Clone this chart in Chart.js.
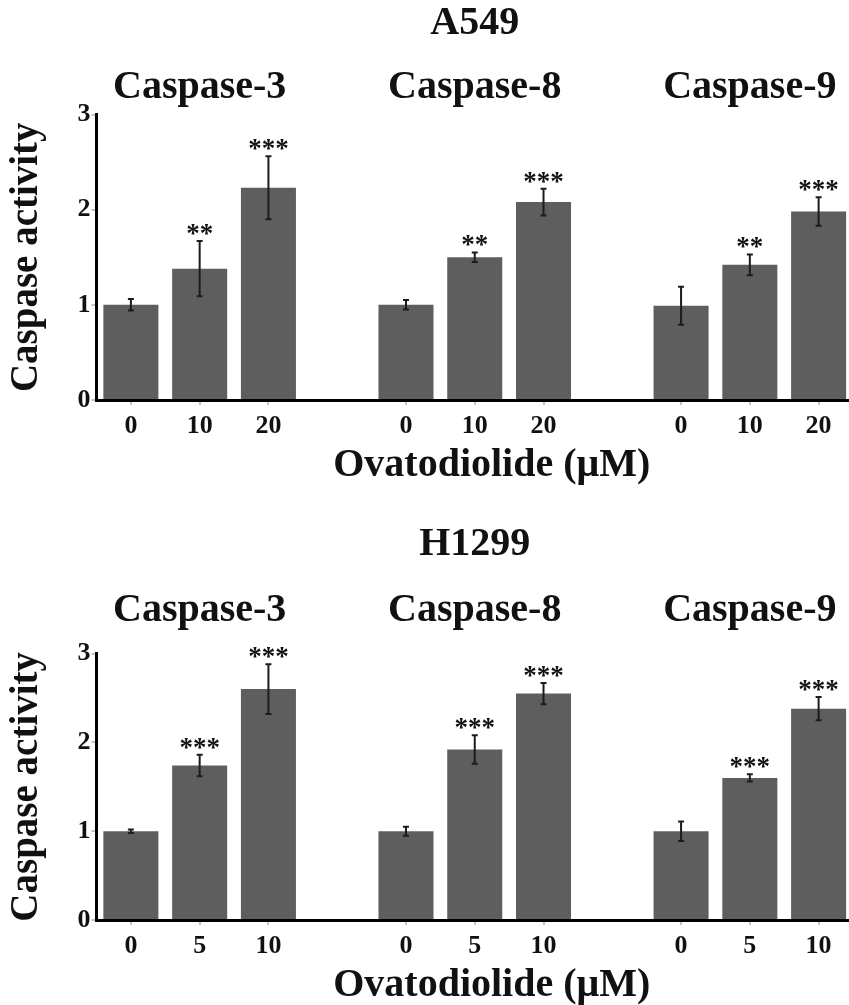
<!DOCTYPE html>
<html>
<head>
<meta charset="utf-8">
<script src="https://cdn.jsdelivr.net/npm/chart.js@4.4.1/dist/chart.umd.min.js"></script>
<style>
  html, body { margin: 0; padding: 0; background: #fff; overflow: hidden; }
  #wrap { position: relative; width: 849px; height: 1005px; overflow: hidden; }
  canvas { position: absolute; left: 0; }
  #a549Chart { top: 0; }
  #h1299Chart { top: 500px; }
</style>
</head>
<body>
<div id="wrap">
  <canvas id="a549Chart" width="853" height="500"></canvas>
  <canvas id="h1299Chart" width="853" height="520"></canvas>
</div>
<script>
const groupNames = ["Caspase-3", "Caspase-8", "Caspase-9"];
const groupCenters = [1, 5, 9];
const yTicks = [0, 1, 2, 3];
const xTitle = "Ovatodiolide (μM)";

const a549Doses  = ["0", "10", "20", "", "0", "10", "20", "", "0", "10", "20"];
const a549Values = [1.0, 1.38, 2.23, null, 1.0, 1.5, 2.08, null, 0.99, 1.42, 1.98];
const a549Errors = [0.06, 0.29, 0.33, null, 0.05, 0.05, 0.14, null, 0.2, 0.11, 0.15];
const a549Stars  = ["", "**", "***", "", "", "**", "***", "", "", "**", "***"];

const h1299Doses  = ["0", "5", "10", "", "0", "5", "10", "", "0", "5", "10"];
const h1299Values = [1.0, 1.74, 2.6, null, 1.0, 1.92, 2.55, null, 1.0, 1.6, 2.38];
const h1299Errors = [0.02, 0.12, 0.28, null, 0.05, 0.16, 0.12, null, 0.11, 0.04, 0.13];
const h1299Stars  = ["", "***", "***", "", "", "***", "***", "", "", "***", "***"];

const SERIF = "'Liberation Serif', 'Times New Roman', serif";
const INK = "#111";

// error bars, significance stars, caspase headers and the dose title
const annotate = {
  id: "annotate",
  afterDatasetsDraw(chart, args, o) {
    const { ctx, chartArea, scales: { x, y } } = chart;
    ctx.save();
    ctx.strokeStyle = "#1c1c1c";
    ctx.fillStyle = INK;
    ctx.lineWidth = 2;
    ctx.textAlign = "center";
    ctx.textBaseline = "alphabetic";
    ctx.font = "bold 27px " + SERIF;
    o.values.forEach((v, i) => {
      if (v == null) return;
      const cx = x.getPixelForValue(i);
      const hi = y.getPixelForValue(v + o.errors[i]);
      const lo = y.getPixelForValue(v - o.errors[i]);
      ctx.beginPath();
      ctx.moveTo(cx, hi); ctx.lineTo(cx, lo);
      ctx.moveTo(cx - 3, hi); ctx.lineTo(cx + 3, hi);
      ctx.moveTo(cx - 3, lo); ctx.lineTo(cx + 3, lo);
      ctx.stroke();
      if (o.stars[i]) ctx.fillText(o.stars[i], cx, hi + 1);
    });
    ctx.font = "bold 40px " + SERIF;
    ctx.textBaseline = "middle";
    groupNames.forEach((name, k) => {
      ctx.fillText(name, x.getPixelForValue(groupCenters[k]), chartArea.top - o.headGap);
    });
    // the source figure centres this title a little right of the plot middle
    const midX = (chartArea.left + chartArea.right) / 2 + 17;
    ctx.fillText(xTitle, midX, chartArea.bottom + 66);
    ctx.restore();
  }
};

function panel(id, cfg) {
  return new Chart(document.getElementById(id), {
    type: "bar",
    data: {
      labels: cfg.doses,
      datasets: [{
        data: cfg.values,
        backgroundColor: "#5e5e5e",
        borderWidth: 0,
        barPercentage: 0.8,
        categoryPercentage: 1
      }]
    },
    options: {
      responsive: false,
      animation: false,
      layout: { padding: 0 },
      plugins: {
        legend: { display: false },
        tooltip: { enabled: false },
        title: {
          display: true,
          text: cfg.cell,
          fullSize: false,
          color: INK,
          font: { family: SERIF, size: 40, weight: "bold" },
          padding: cfg.titlePad
        },
        annotate: {
          values: cfg.values, errors: cfg.errors, stars: cfg.stars,
          headGap: cfg.headGap
        }
      },
      scales: {
        x: {
          offset: true,
          grid: {
            offset: false,
            drawOnChartArea: false,
            tickLength: 5,
            lineWidth: 2,
            color: c => (c.tick && c.tick.label === "") ? "rgba(0,0,0,0)" : "#c4c4c4"
          },
          border: { color: "#000", width: 3 },
          ticks: {
            color: INK, autoSkip: false, maxRotation: 0, padding: cfg.tickPad,
            font: { family: SERIF, size: 26, weight: "bold" }
          },
          afterFit(s) { s.height = 100; }
        },
        y: {
          min: 0, max: 3,
          afterBuildTicks(s) { s.ticks = yTicks.map(v => ({ value: v })); },
          grid: { drawOnChartArea: false, tickLength: 5, lineWidth: 2, color: "#c4c4c4" },
          border: { color: "#000", width: 3 },
          ticks: {
            color: INK, padding: 1,
            font: { family: SERIF, size: 26, weight: "bold" }
          },
          title: {
            display: true,
            text: "Caspase activity",
            color: INK,
            font: { family: SERIF, size: 39, weight: "bold" },
            padding: { top: 4, bottom: 0 }
          },
          afterFit(s) { s.width = 96.5; }
        }
      }
    },
    plugins: [annotate]
  });
}

panel("a549Chart", {
  cell: "A549", doses: a549Doses, values: a549Values, errors: a549Errors, stars: a549Stars,
  titlePad: { top: 0, bottom: 66.5 }, headGap: 27, tickPad: 6
});
panel("h1299Chart", {
  cell: "H1299", doses: h1299Doses, values: h1299Values, errors: h1299Errors, stars: h1299Stars,
  titlePad: { top: 21, bottom: 84.6 }, headGap: 43, tickPad: 6
});
</script>
</body>
</html>
